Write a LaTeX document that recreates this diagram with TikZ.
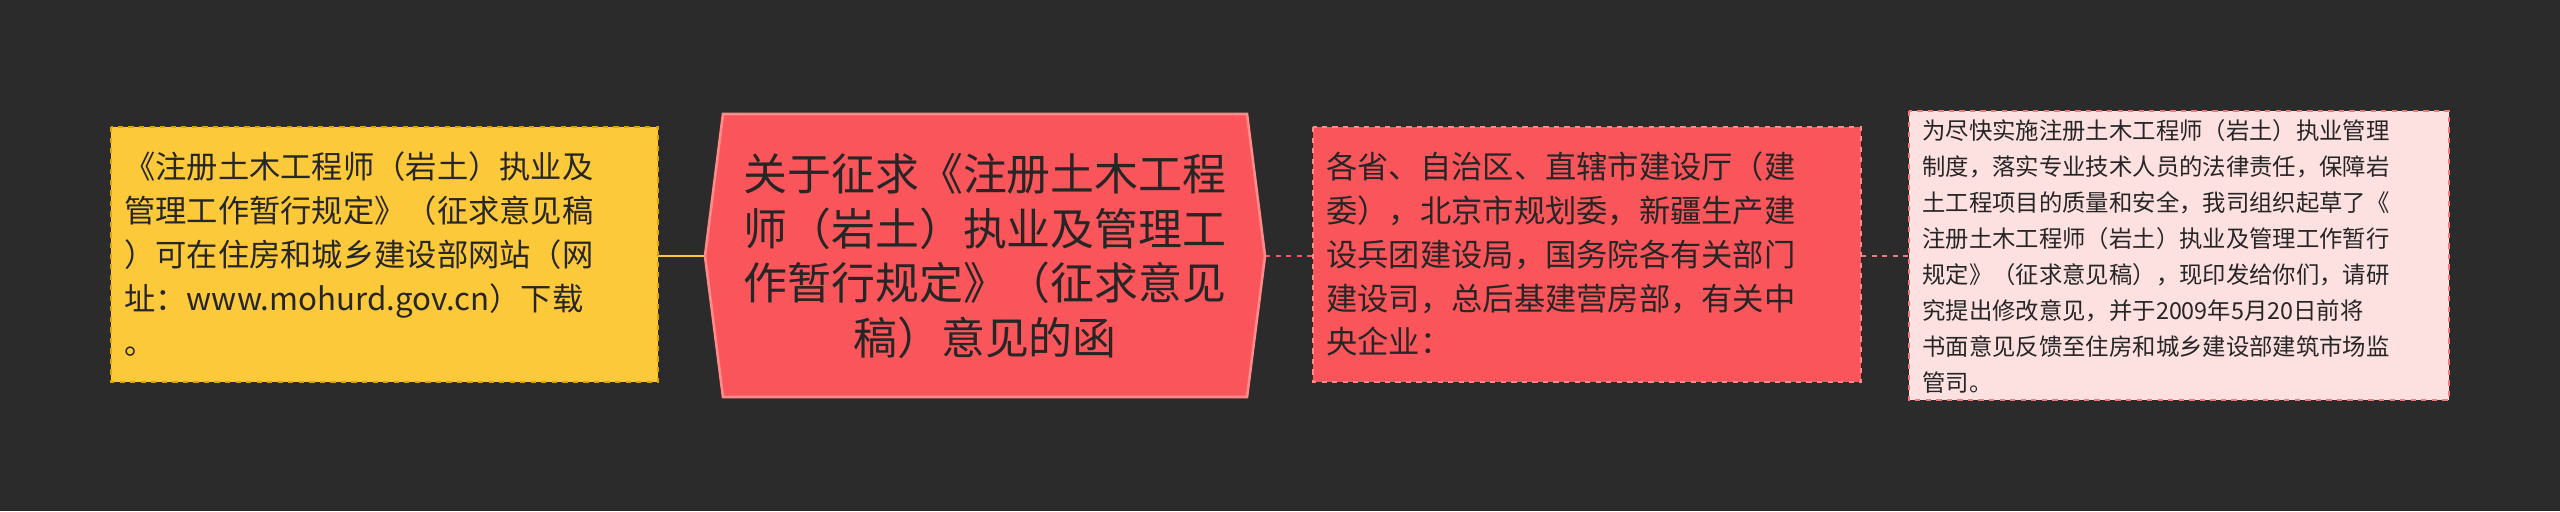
\documentclass[tikz,border=0pt]{standalone}
\usepackage{fontspec}
\setmainfont{Noto Sans CJK SC}
\definecolor{bg}{HTML}{2B2B2B}
\definecolor{yel}{HTML}{FCC93B}
\definecolor{yelb}{HTML}{E0A400}
\definecolor{red1}{HTML}{F9555A}
\definecolor{redb}{HTML}{FF8A8A}
\definecolor{pink}{HTML}{FDE0E0}
\definecolor{pinkb}{HTML}{F07A7A}
\tikzset{
  box/.style={draw, dashed, line width=1.2pt, inner sep=0pt, anchor=north west},
  txt/.style={align=left, anchor=west, inner sep=0pt},
}
\begin{document}
\begin{tikzpicture}[x=0.02cm,y=-0.02cm]
\fill[bg] (0,0) rectangle (2560,511);
\useasboundingbox (0,0) rectangle (2560,511);
% connectors
\coordinate (lr) at (658,256);
\coordinate (hl) at (705,256);
\coordinate (hr) at (1265,256);
\coordinate (ml) at (1313,256);
\coordinate (mr) at (1861,256);
\coordinate (rl) at (1909,256);
\draw[yel, line width=1.5pt] (lr) -- (hl);
\draw[red1, dashed, line width=1.5pt] (hr) -- (ml);
\draw[pinkb, dashed, line width=1.2pt] (mr) -- (rl);
% left box
\filldraw[fill=yel, draw=yelb, dashed, line width=1.2pt] (111,127) rectangle (658,382);
\node[txt, text=black!85, font=\fontsize{17.8pt}{25pt}\selectfont] (L) at (124,254) {《注册土木工程师（岩土）执业及\\管理工作暂行规定》（征求意见稿\\）可在住房和城乡建设部网站（网\\址：www.mohurd.gov.cn）下载\\。};
% center hexagon
\filldraw[fill=red1, draw=redb, line width=1.5pt] (705,256) -- (723,114) -- (1247,114) -- (1265,256) -- (1247,397) -- (723,397) -- cycle;
\node[align=center, text=black!85, font=\fontsize{25pt}{31pt}\selectfont, inner sep=0pt] (C) at (985,256) {关于征求《注册土木工程\\师（岩土）执业及管理工\\作暂行规定》（征求意见\\稿）意见的函};
% middle box
\filldraw[fill=red1, draw=redb, dashed, line width=1.2pt] (1313,127) rectangle (1861,382);
\node[txt, text=black!85, font=\fontsize{17.8pt}{25pt}\selectfont] (M) at (1326,254) {各省、自治区、直辖市建设厅（建\\委），北京市规划委，新疆生产建\\设兵团建设局，国务院各有关部门\\建设司，总后基建营房部，有关中\\央企业：};
% right box
\filldraw[fill=pink, draw=pinkb, dashed, line width=1.2pt] (1909,111) rectangle (2449,400);
\node[txt, text=black!85, font=\fontsize{13.3pt}{20.5pt}\selectfont] (R) at (1922,256) {为尽快实施注册土木工程师（岩土）执业管理\\制度，落实专业技术人员的法律责任，保障岩\\土工程项目的质量和安全，我司组织起草了《\\注册土木工程师（岩土）执业及管理工作暂行\\规定》（征求意见稿），现印发给你们，请研\\究提出修改意见，并于2009年5月20日前将\\书面意见反馈至住房和城乡建设部建筑市场监\\管司。};
\end{tikzpicture}
\end{document}
